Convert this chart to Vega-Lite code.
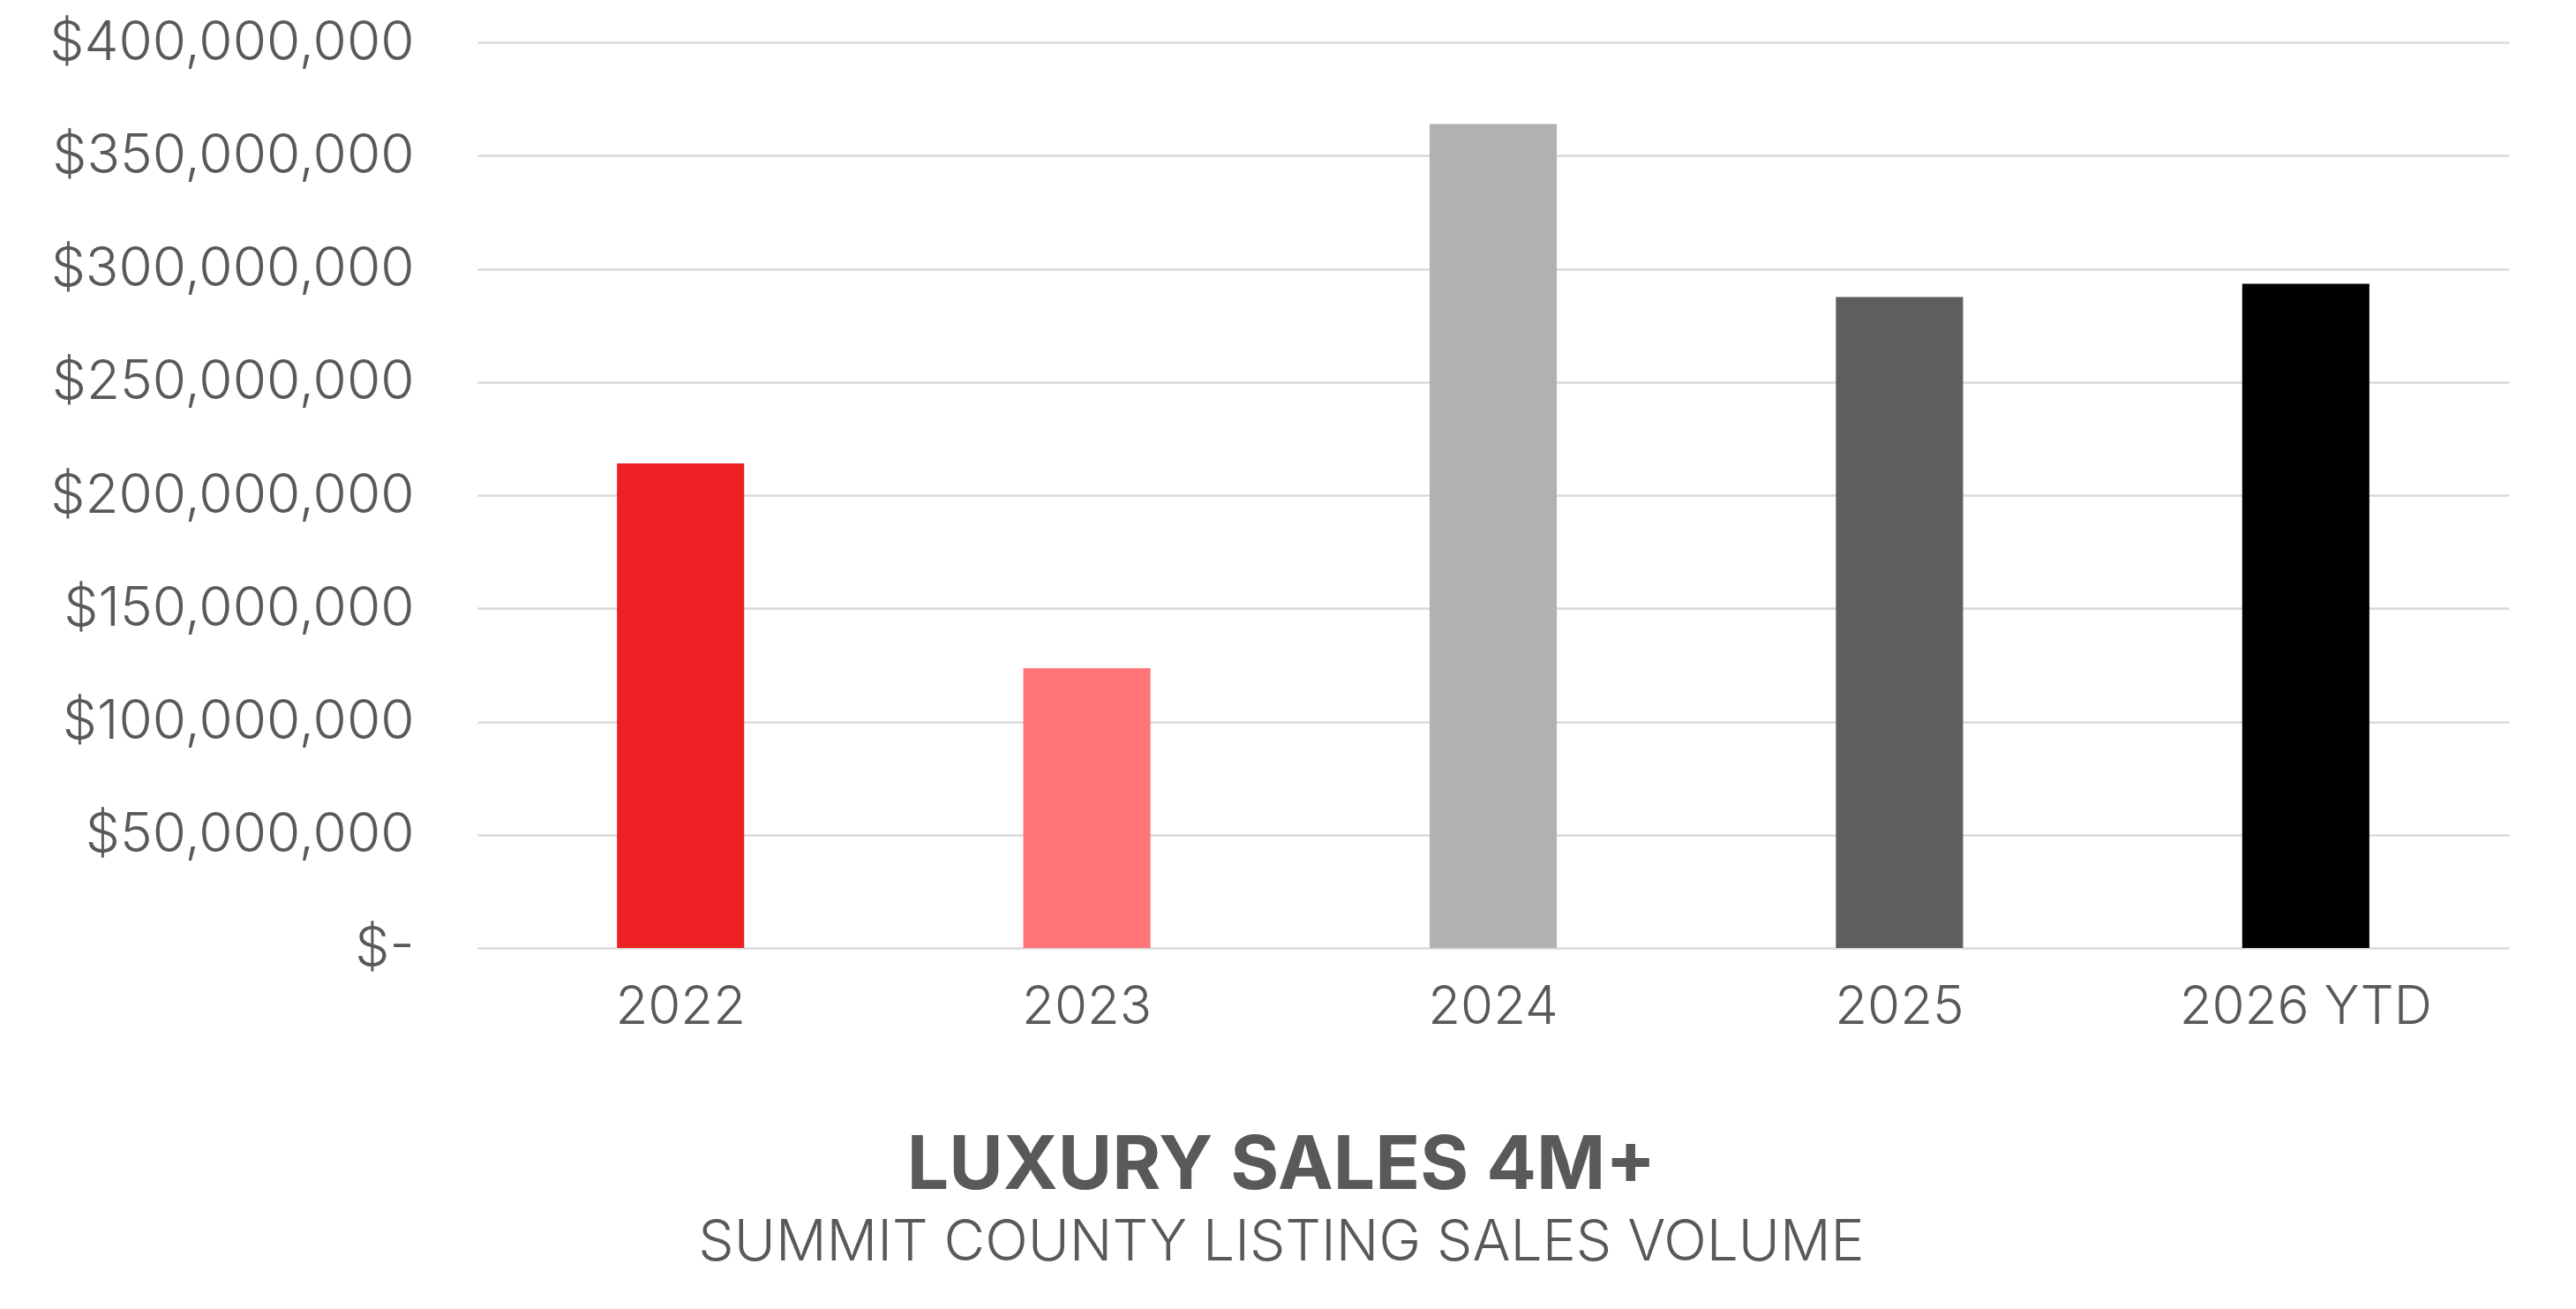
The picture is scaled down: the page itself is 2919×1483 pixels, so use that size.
{
  "$schema": "https://vega.github.io/schema/vega-lite/v6.json",
  "autosize": {"type": "none"},
  "width": 2302,
  "height": 1026,
  "padding": {"left": 541, "top": 48, "right": 76, "bottom": 409},
  "background": "white",
  "data": {
    "values": [
      {"year": "2022", "volume": 214000000},
      {"year": "2023", "volume": 123600000},
      {"year": "2024", "volume": 363900000},
      {"year": "2025", "volume": 287500000},
      {"year": "2026 YTD", "volume": 293400000}
    ]
  },
  "title": {
    "text": "LUXURY SALES 4M+",
    "subtitle": "SUMMIT COUNTY LISTING SALES VOLUME",
    "orient": "bottom",
    "anchor": "middle",
    "frame": "group",
    "dx": -240,
    "offset": 110,
    "font": "Inter",
    "fontSize": 84,
    "fontWeight": 700,
    "color": "#595959",
    "subtitleFont": "Inter",
    "subtitleFontSize": 64,
    "subtitleFontWeight": 300,
    "subtitleColor": "#595959",
    "subtitlePadding": 12
  },
  "mark": {"type": "bar"},
  "encoding": {
    "x": {
      "field": "year",
      "type": "nominal",
      "sort": null,
      "scale": {"paddingInner": 0.687, "paddingOuter": 0.3435},
      "axis": {
        "title": null,
        "labelAngle": 0,
        "labelLimit": 0,
        "ticks": false,
        "domain": false,
        "labelFont": "Inter",
        "labelFontSize": 60,
        "labelFontWeight": 300,
        "labelColor": "#595959",
        "labelPadding": 38
      }
    },
    "y": {
      "field": "volume",
      "type": "quantitative",
      "scale": {"domain": [0, 400000000], "nice": false},
      "axis": {
        "title": null,
        "values": [0, 50000000, 100000000, 150000000, 200000000, 250000000, 300000000, 350000000, 400000000],
        "labelExpr": "datum.value == 0 ? '$-\u00a0\u00a0' : '$' + format(datum.value, ',')",
        "labelLimit": 0,
        "ticks": false,
        "domain": false,
        "grid": true,
        "gridColor": "#d9d9d9",
        "gridWidth": 2.5,
        "labelFont": "Inter",
        "labelFontSize": 62,
        "labelFontWeight": 300,
        "labelColor": "#595959",
        "labelPadding": 72
      }
    },
    "color": {
      "field": "year",
      "type": "nominal",
      "scale": {
        "domain": ["2022", "2023", "2024", "2025", "2026 YTD"],
        "range": ["#ed2024", "#ff7578", "#b1b1b1", "#5e5e5e", "#000000"]
      },
      "legend": null
    }
  },
  "config": {"view": {"stroke": null}}
}
